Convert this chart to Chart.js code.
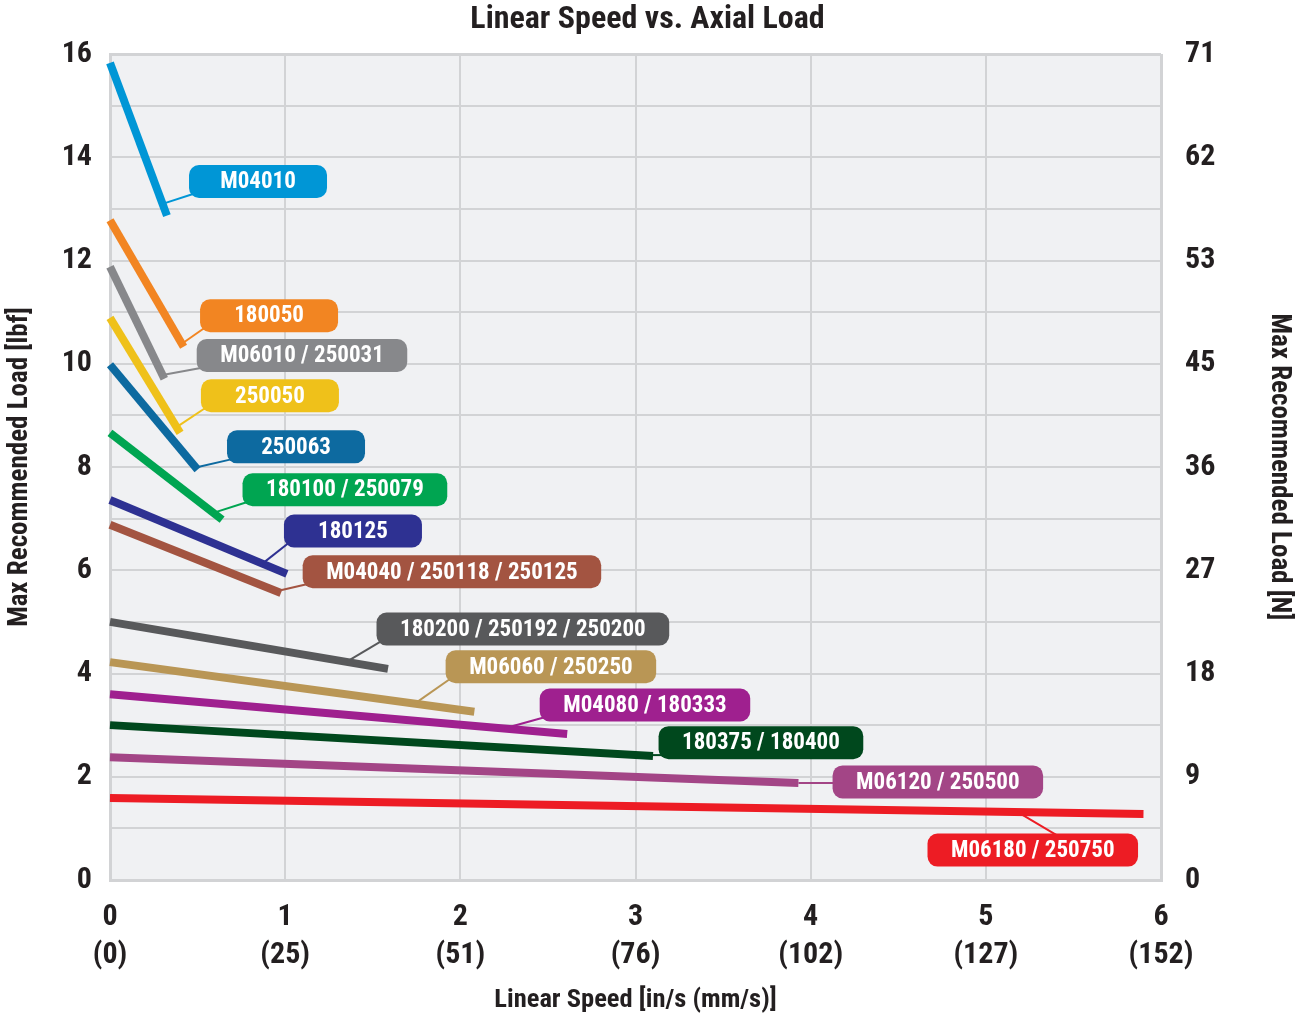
<!DOCTYPE html>
<html>
<head>
<meta charset="utf-8">
<title>Linear Speed vs. Axial Load</title>
<script src="https://cdn.jsdelivr.net/npm/chart.js@4/dist/chart.umd.min.js"></script>
<style>
    html, body { margin: 0; padding: 0; background: #fff; }
    #grafico { display: block; }
</style>
</head>
<body>
<canvas id="grafico" width="1295" height="1016"></canvas>
<script>
// ======================= DADOS =======================

// Motores / fusos (um traço por grupo)
const seriesNames = [
    'M04010', '180050', 'M06010 / 250031', '250050', '250063',
    '180100 / 250079', '180125', 'M04040 / 250118 / 250125',
    '180200 / 250192 / 250200', 'M06060 / 250250', 'M04080 / 180333',
    '180375 / 180400', 'M06120 / 250500', 'M06180 / 250750',
];

// Carga máxima [lbf] com velocidade zero
const loadAtZero = [15.83, 12.78, 11.88, 10.89, 9.98, 8.66, 7.36, 6.88, 5.0, 4.22, 3.6, 3.0, 2.38, 1.59];

// Velocidade máxima [in/s] e a carga nesse ponto [lbf]
const maxSpeed = [0.325, 0.42, 0.31, 0.40, 0.50, 0.64, 1.01, 0.976, 1.587, 2.08, 2.61, 3.10, 3.93, 5.90];
const loadAtMaxSpeed = [12.87, 10.33, 9.71, 8.66, 7.95, 6.98, 5.93, 5.56, 4.09, 3.26, 2.83, 2.40, 1.88, 1.28];

// Rótulos dos eixos
const speedInLabels = ['0', '1', '2', '3', '4', '5', '6'];
const speedMmLabels = ['(0)', '(25)', '(51)', '(76)', '(102)', '(127)', '(152)'];
const newtonLabels = ['0', '9', '18', '27', '36', '45', '53', '62', '71'];

// ======================= ESTILO / LAYOUT =======================

const seriesColors = [
    '#0096d6', '#f28522', '#87888b', '#efc11a', '#0d6aa0',
    '#00a551', '#2e3192', '#a35441', '#58595b', '#b99655',
    '#9f208f', '#00481d', '#a34586', '#ed1c24',
];

// Centro das caixas de rótulo (em unidades dos eixos) e onde a linha-guia toca o traço
const calloutCenter = [
    [0.845, 13.53], [0.908, 10.93], [1.096, 10.16], [0.913, 9.38], [1.062, 8.39],
    [1.341, 7.56], [1.387, 6.76], [1.952, 5.97], [2.357, 4.86], [2.517, 4.13],
    [3.054, 3.39], [3.716, 2.66], [4.726, 1.90], [5.268, 0.58],
];
const calloutLeaderX = [0.30, 0.41, 0.30, 0.38, 0.49, 0.59, 0.87, 0.95, 1.35, 1.74, 2.25, 3.0, 3.93, 5.18];

const FONT = '"Roboto Condensed", "Open Sans Condensed", sans-serif';
const INK = '#231f20';
const GRID = '#d2d3d5';

// Fundo cinza só dentro da área do gráfico
const plotBackground = {
    id: 'plotBackground',
    beforeDraw(chart) {
        const { ctx, chartArea: a } = chart;
        ctx.save();
        ctx.fillStyle = '#fff';
        ctx.fillRect(0, 0, chart.width, chart.height);
        ctx.fillStyle = '#f0f1f3';
        ctx.fillRect(a.left, a.top, a.right - a.left, a.bottom - a.top);
        ctx.restore();
    },
};

function roundRect(ctx, x, y, w, h, r) {
    ctx.beginPath();
    ctx.moveTo(x + r, y);
    ctx.lineTo(x + w - r, y);
    ctx.arcTo(x + w, y, x + w, y + r, r);
    ctx.lineTo(x + w, y + h - r);
    ctx.arcTo(x + w, y + h, x + w - r, y + h, r);
    ctx.lineTo(x + r, y + h);
    ctx.arcTo(x, y + h, x, y + h - r, r);
    ctx.lineTo(x, y + r);
    ctx.arcTo(x, y, x + r, y, r);
    ctx.closePath();
}

// Caixas coloridas com o nome de cada traço + linha-guia
const callouts = {
    id: 'callouts',
    afterDatasetsDraw(chart) {
        const { ctx } = chart;
        const xs = chart.scales.x;
        const ys = chart.scales.y;
        const boxH = 33;
        const radius = 10;

        ctx.save();
        ctx.font = 'bold 23px ' + FONT;

        seriesNames.forEach((name, i) => {
            const tw = ctx.measureText(name).width;
            const w = Math.max(138, tw + 47);
            const cx = xs.getPixelForValue(calloutCenter[i][0]);
            const cy = ys.getPixelForValue(calloutCenter[i][1]);
            const left = cx - w / 2;
            const top = cy - boxH / 2;

            // ponto no traço onde a guia começa
            const lx = calloutLeaderX[i];
            const t = lx / maxSpeed[i];
            const ly = loadAtZero[i] + (loadAtMaxSpeed[i] - loadAtZero[i]) * t;
            const ax = xs.getPixelForValue(lx);
            const ay = ys.getPixelForValue(ly);

            // ponto da caixa onde a guia chega (caixa abaixo do traço: puxa a guia em diagonal)
            const inset = 4;
            let bx = Math.min(Math.max(ax, left + inset), left + w - inset);
            const by = Math.min(Math.max(ay, top + inset), top + boxH - inset);
            if (ay < top) bx = Math.min(ax + (by - ay) * 1.7, left + w - inset);

            ctx.strokeStyle = seriesColors[i];
            ctx.lineWidth = 2;
            ctx.beginPath();
            ctx.moveTo(ax, ay);
            ctx.lineTo(bx, by);
            ctx.stroke();

            ctx.fillStyle = seriesColors[i];
            roundRect(ctx, left, top, w, boxH, radius);
            ctx.fill();

            ctx.fillStyle = '#fff';
            ctx.textAlign = 'center';
            ctx.textBaseline = 'middle';
            ctx.fillText(name, cx, cy + 1);
        });
        ctx.restore();
    },
};

const datasets = seriesNames.map((name, i) => ({
    label: name,
    data: [
        { x: 0, y: loadAtZero[i] },
        { x: maxSpeed[i], y: loadAtMaxSpeed[i] },
    ],
    showLine: true,
    borderColor: seriesColors[i],
    backgroundColor: seriesColors[i],
    borderWidth: 8,
    borderCapStyle: 'butt',
    pointRadius: 0,
    clip: false,
}));

const edgeWidth = (ctx) => (ctx.tick && (ctx.index === 0 || ctx.tick.value === ctx.scale.max) ? 3 : 2);

new Chart(document.getElementById('grafico'), {
    type: 'scatter',
    data: { datasets },
    plugins: [plotBackground, callouts],
    options: {
        responsive: false,
        animation: false,
        layout: { padding: 0 },
        plugins: {
            legend: { display: false },
            tooltip: { enabled: false },
            title: {
                display: true,
                text: 'Linear Speed vs. Axial Load',
                color: INK,
                font: { family: FONT, size: 32, weight: 'bold', lineHeight: 1.2 },
                padding: { top: 1, bottom: 14.6 },
            },
        },
        scales: {
            x: {
                type: 'linear',
                min: 0,
                max: 6,
                afterFit: (scale) => { scale.height = 136; },
                ticks: {
                    stepSize: 1,
                    autoSkip: false,
                    maxRotation: 0,
                    padding: 18,
                    color: INK,
                    font: { family: FONT, size: 30, weight: 'bold', lineHeight: 1.27 },
                    callback: (v, idx) => [speedInLabels[idx], speedMmLabels[idx]],
                },
                grid: { color: GRID, lineWidth: edgeWidth, drawTicks: false },
                border: { display: true, color: GRID, width: 3 },
                title: {
                    display: true,
                    text: 'Linear Speed [in/s (mm/s)]',
                    color: INK,
                    font: { family: FONT, size: 26.5, weight: 'bold', lineHeight: 1.2 },
                    padding: { top: 0, bottom: 0 },
                },
            },
            y: {
                position: 'left',
                min: 0,
                max: 16,
                afterFit: (scale) => { scale.width = 110; },
                ticks: {
                    stepSize: 1,
                    autoSkip: false,
                    padding: 18,
                    color: INK,
                    font: { family: FONT, size: 30, weight: 'bold' },
                    callback: (v) => (v % 2 === 0 ? String(v) : ''),
                },
                grid: { color: GRID, lineWidth: edgeWidth, drawTicks: false },
                border: { display: true, color: GRID, width: 3 },
                title: {
                    display: true,
                    text: 'Max Recommended Load [lbf]',
                    color: INK,
                    font: { family: FONT, size: 27, weight: 'bold', lineHeight: 1.2 },
                    padding: { top: 4, bottom: 0 },
                },
            },
            y2: {
                position: 'right',
                min: 0,
                max: 16,
                afterFit: (scale) => { scale.width = 134; },
                ticks: {
                    stepSize: 2,
                    autoSkip: false,
                    padding: 24,
                    color: INK,
                    font: { family: FONT, size: 30, weight: 'bold' },
                    callback: (v, idx) => newtonLabels[idx],
                },
                grid: { display: false, drawTicks: false },
                border: { display: false },
                title: {
                    display: true,
                    text: 'Max Recommended Load [N]',
                    color: INK,
                    font: { family: FONT, size: 27, weight: 'bold', lineHeight: 1.2 },
                    padding: { top: 0, bottom: 0 },
                },
            },
        },
    },
});
</script>
</body>
</html>
